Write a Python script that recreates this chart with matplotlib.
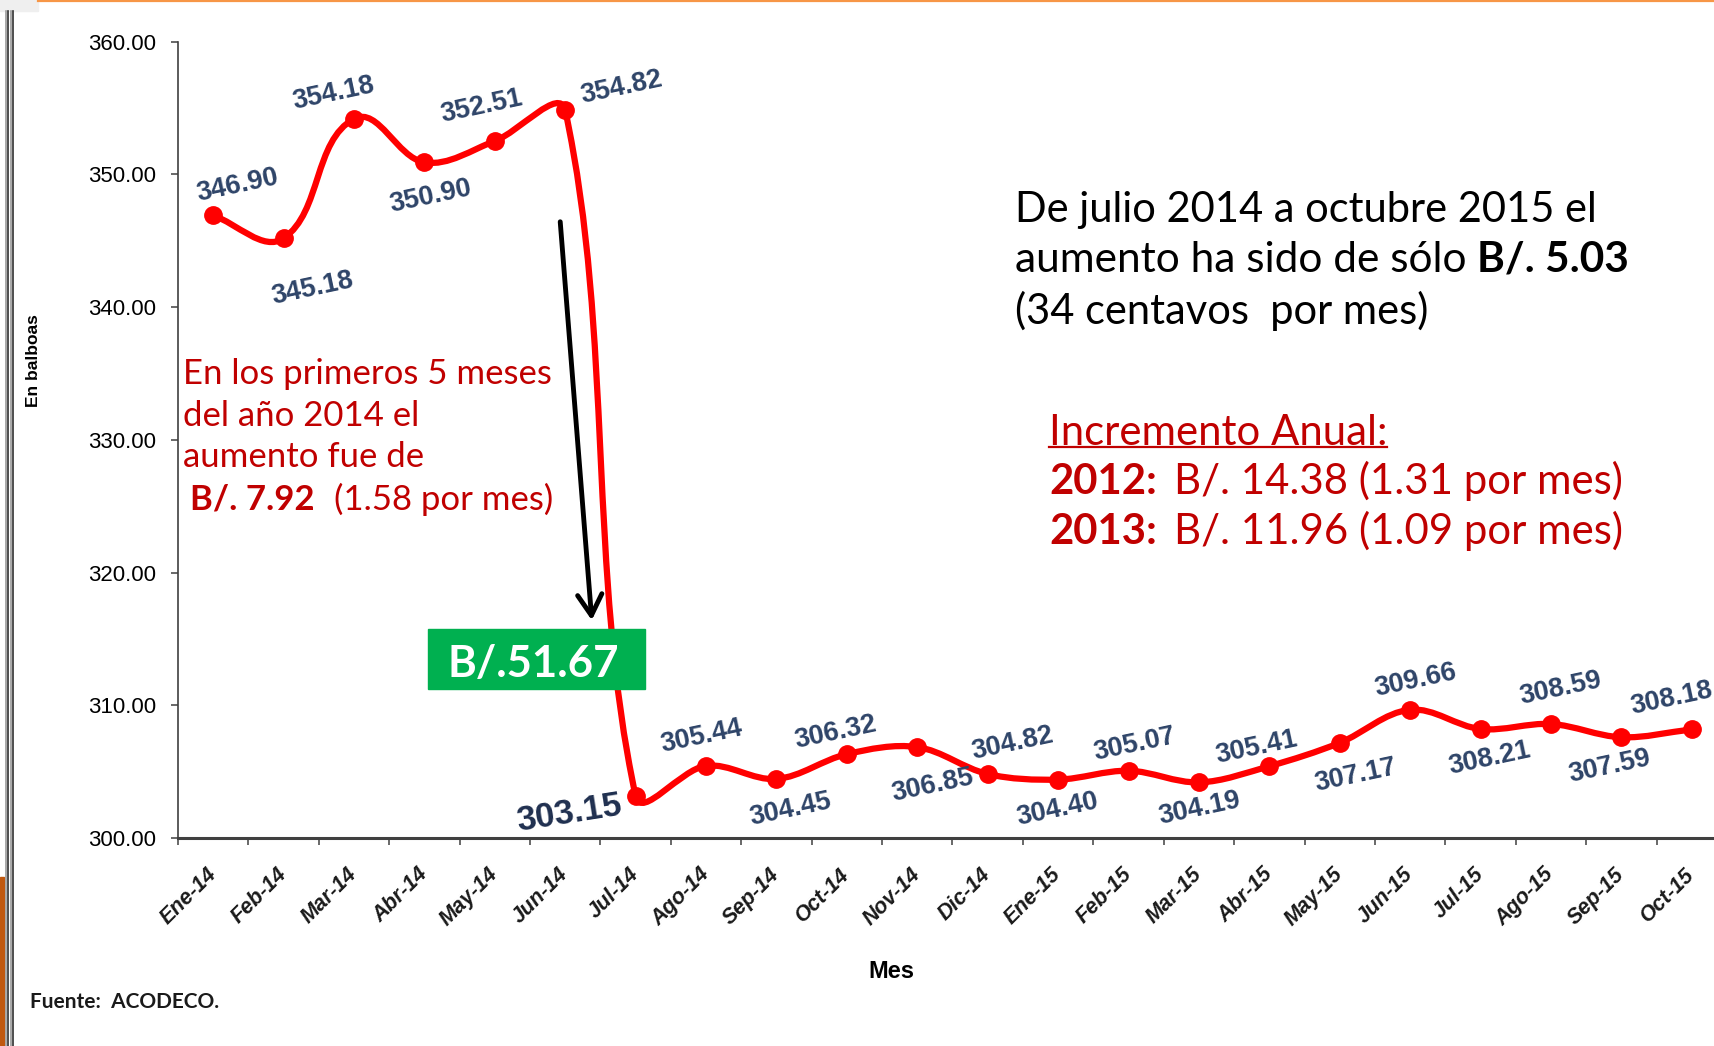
import numpy as np
import matplotlib
matplotlib.use("Agg")
import matplotlib.pyplot as plt
from matplotlib.path import Path
from matplotlib.patches import PathPatch, Rectangle
from matplotlib.lines import Line2D

# datos
meses = ["Ene-14", "Feb-14", "Mar-14", "Abr-14", "May-14", "Jun-14",
         "Jul-14", "Ago-14", "Sep-14", "Oct-14", "Nov-14", "Dic-14",
         "Ene-15", "Feb-15", "Mar-15", "Abr-15", "May-15", "Jun-15",
         "Jul-15", "Ago-15", "Sep-15", "Oct-15"]
precios = [346.90, 345.18, 354.18, 350.90, 352.51, 354.82,
           303.15, 305.44, 304.45, 306.32, 306.85, 304.82,
           304.40, 305.07, 304.19, 305.41, 307.17, 309.66,
           308.21, 308.59, 307.59, 308.18]
y_ticks = [300, 310, 320, 330, 340, 350, 360]

# desplazamiento de cada etiqueta respecto a su punto (pixeles)
label_offsets = [(24, 30), (29, -50), (-20, 25), (6, -34), (-13, 35), (56, 23),
                 (-66, -17), (-5, 29), (14, -31), (-11, 22), (15, -38), (25, 31),
                 (-1, -30), (6, 26), (1, -26), (-13, 19), (16, -33), (5, 29),
                 (9, -29), (10, 35), (-12, -29), (-20, 31)]

W, H = 1715, 1046
ARIAL = ["Liberation Sans", "DejaVu Sans"]
CALIBRI = ["Lato", "DejaVu Sans"]
ROJO = "#C00000"

fig = plt.figure(figsize=(W / 100, H / 100), dpi=100)
fig.patch.set_facecolor("white")


def fx(px):
    return px / W


def fy(py):
    return 1 - py / H


ax = fig.add_axes([fx(178), fy(838), fx(1549), 796.4 / H])
ax.set_xlim(0, len(meses))
ax.set_ylim(y_ticks[0], y_ticks[-1])

# linea suavizada tipo Excel: bezier calculada en pixeles de pantalla
x = np.arange(len(precios)) + 0.5
pix = ax.transData.transform(np.column_stack([x, precios]))
n = len(pix)
verts = [pix[0]]
codes = [Path.MOVETO]
for i in range(n - 1):
    p0 = pix[max(i - 1, 0)]
    p1 = pix[i]
    p2 = pix[i + 1]
    p3 = pix[min(i + 2, n - 1)]
    seg = np.hypot(*(p2 - p1))
    t1 = (p2 - p0) / np.hypot(*(p2 - p0))
    t2 = (p3 - p1) / np.hypot(*(p3 - p1))
    verts += [p1 + t1 * seg / 3, p2 - t2 * seg / 3, p2]
    codes += [Path.CURVE4] * 3
verts = ax.transData.inverted().transform(np.array(verts))
ax.add_patch(PathPatch(Path(verts, codes), fill=False, edgecolor="#FF0000",
                       lw=4.5, capstyle="round", joinstyle="round", zorder=2))
ax.plot(x, precios, "o", color="#FF0000", ms=12.5, zorder=3)

# etiquetas de valores
for i, v in enumerate(precios):
    big = (i == 6)
    ax.annotate(f"{v:.2f}", (x[i], v), xytext=label_offsets[i],
                textcoords="offset pixels", ha="center", va="center",
                rotation=9 if big else 12, family=ARIAL, fontweight="bold",
                fontsize=25 if big else 19.5,
                color="#1F2F4F" if big else "#2E4468", zorder=4)

# ejes
for s in ["top", "right"]:
    ax.spines[s].set_visible(False)
ax.spines["left"].set_color("#404040")
ax.spines["left"].set_linewidth(1.2)
ax.spines["bottom"].set_color("#404040")
ax.spines["bottom"].set_linewidth(2.2)

ax.set_yticks(y_ticks)
ax.set_yticklabels([f"{v:.2f}" for v in y_ticks], family=ARIAL, fontsize=16,
                   color="black")
ax.tick_params(axis="y", length=5, width=1.1, color="#404040", pad=11)

ax.set_xticks(range(len(meses) + 1))
ax.set_xticklabels([])
ax.tick_params(axis="x", which="major", length=5, width=1.1, color="#404040")
ax.set_xticks(x, minor=True)
ax.set_xticklabels(meses, minor=True, family=ARIAL, fontsize=15.5,
                   fontweight="bold", style="italic", color="#1a1a1a")
ax.tick_params(axis="x", which="minor", length=0, pad=24)
for lab in ax.get_xticklabels(minor=True):
    lab.set_rotation(45)
    lab.set_ha("right")
    lab.set_va("center")
    lab.set_rotation_mode("anchor")

fig.text(fx(34), fy(361), "En balboas", rotation=90, ha="center", va="center",
         family=ARIAL, fontweight="bold", fontsize=12.5, color="black")
fig.text(fx(891), fy(972), "Mes", ha="center", va="center",
         family=ARIAL, fontweight="bold", fontsize=17, color="black")
fig.text(fx(30), fy(1002), "Fuente:  ACODECO.", ha="left", va="center",
         family=CALIBRI, fontweight="bold", fontsize=15, color="#1a1a1a")


def linea(px, py, parts, size, color):
    """Escribe una linea con tramos normales y en negrita."""
    t = None
    for txt, peso, gap in parts:
        if t is None:
            t = fig.text(fx(px), fy(py), txt, ha="left", va="center",
                         family=CALIBRI, fontweight=peso, fontsize=size,
                         color=color)
        else:
            t = ax.annotate(txt, xy=(1, 0), xycoords=t,
                            xytext=(gap * size, 0), textcoords="offset points",
                            ha="left", va="bottom", family=CALIBRI,
                            fontweight=peso, fontsize=size, color=color,
                            annotation_clip=False)
    return t


# bloque rojo de la izquierda
linea(183, 374, [("En los primeros 5 meses", "normal", 0)], 25, ROJO)
linea(183, 415.5, [("del año 2014 el", "normal", 0)], 25, ROJO)
linea(183, 457, [("aumento fue de", "normal", 0)], 25, ROJO)
linea(190, 499.7, [("B/. 7.92", "bold", 0), ("(1.58 por mes)", "normal", 0.55)],
      25, ROJO)

# bloque negro de la derecha
linea(1015, 210, [("De julio 2014 a octubre 2015 el", "normal", 0)], 30, "black")
linea(1015, 260, [("aumento ha sido de sólo", "normal", 0),
                  ("B/. 5.03", "bold", 0.25)], 30.5, "black")
linea(1015, 310.5, [("(34 centavos  por mes)", "normal", 0)], 30, "black")

# incremento anual
tin = linea(1049, 433, [("Incremento Anual:", "normal", 0)], 30.2, ROJO)
linea(1049, 482, [("2012:", "bold", 0), ("B/. 14.38 (1.31 por mes)", "normal", 0.4)],
      30.2, ROJO)
linea(1049, 532.4, [("2013:", "bold", 0), ("B/. 11.96 (1.09 por mes)", "normal", 0.4)],
      30.2, ROJO)
fig.canvas.draw()
bb = tin.get_window_extent()
fig.add_artist(Line2D([bb.x0 / W, bb.x1 / W], [fy(447), fy(447)],
                      color=ROJO, lw=1.6, transform=fig.transFigure))

# caja verde y flecha
fig.add_artist(Rectangle((fx(428), fy(689)), fx(217), 60 / H,
                         transform=fig.transFigure, color="#00B050", zorder=5))
fig.text(fx(533), fy(664), "B/.51.67", ha="center", va="center",
         family=CALIBRI, fontweight="bold", fontsize=31.5, color="white",
         zorder=6)
ax.annotate("", xy=(592, H - 623), xycoords="figure pixels",
            xytext=(560, H - 219), textcoords="figure pixels",
            arrowprops=dict(arrowstyle="->,head_length=0.6,head_width=0.35",
                            lw=3.5, color="black", mutation_scale=25),
            annotation_clip=False)

# bordes de la captura
fig.add_artist(Rectangle((0, fy(11)), fx(38), 11 / H, transform=fig.transFigure,
                         color="#EFEFEF", zorder=1))
fig.add_artist(Line2D([fx(38), 1], [fy(1), fy(1)], color="#F79646", lw=1.6,
                      transform=fig.transFigure))
for xp, c in [(6, "#9A9A9A"), (8, "#303030"), (11, "#9A9A9A"), (13, "#303030")]:
    fig.add_artist(Line2D([fx(xp), fx(xp)], [0, fy(11)], color=c, lw=1.2,
                          transform=fig.transFigure))
fig.add_artist(Rectangle((0, 0), fx(4), (H - 877) / H, transform=fig.transFigure,
                         color="#C0580F", zorder=1))

fig.savefig("out.png", dpi=100)
